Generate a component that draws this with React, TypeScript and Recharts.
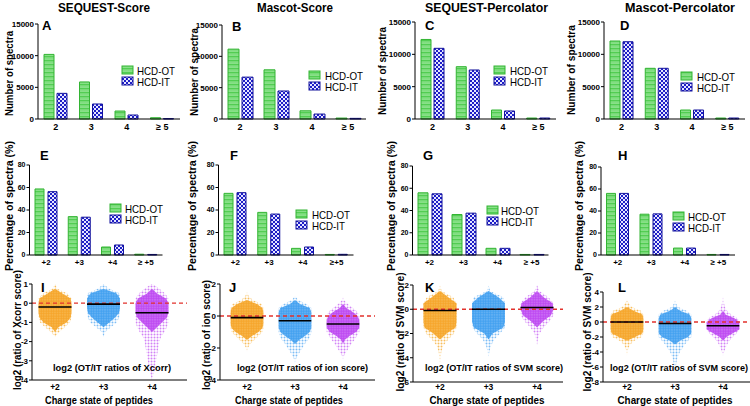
import React from 'react';
import { BarChart, Bar, XAxis, YAxis, ComposedChart, Area, ReferenceLine } from 'recharts';

const FONT = '"Liberation Sans", Arial, Helvetica, sans-serif';

// top row: number of spectra per charge state
const countCats = ['2', '3', '4', '≥ 5'];
const countTicks = [0, 5000, 10000, 15000];
const seqScoreOT = [10200, 5850, 1260, 200];
const seqScoreIT = [4050, 2370, 630, 60];
const mascotScoreOT = [11150, 7850, 1310, 150];
const mascotScoreIT = [6680, 4470, 790, 100];
const seqPercOT = [12300, 8090, 1390, 150];
const seqPercIT = [10930, 7580, 1240, 150];
const mascotPercOT = [12060, 7840, 1390, 150];
const mascotPercIT = [11950, 7840, 1390, 150];

// middle row: percentage of spectra
const pctCats = ['+2', '+3', '+4', '≥ +5'];
const pctCatsF = ['+2', '+3', '+4', '≥+5'];
const pctTicks = [0, 20, 40, 60, 80];
const seqScorePctOT = [58.7, 34.1, 7.1, 0.7];
const seqScorePctIT = [56.3, 33.6, 8.9, 0.5];
const mascotScorePctOT = [54.8, 37.9, 5.9, 0.5];
const mascotScorePctIT = [55.4, 36.4, 7.1, 0.6];
const seqPercPctOT = [55.9, 36.4, 6.0, 0.5];
const seqPercPctIT = [55.0, 37.6, 6.0, 0.5];
const mascotPercPctOT = [56.0, 37.1, 6.3, 0.5];
const mascotPercPctIT = [56.0, 37.4, 6.3, 0.5];

// bottom row: swarm profiles (relative spread of the dots at each log2 level)
const swarmCats = ['+2', '+3', '+4'];

const xcorrLevels = [1, 0.75, 0.5, 0.25, 0, -0.25, -0.5, -0.75, -1, -1.25, -1.5, -1.75, -2, -2.25, -2.5, -2.75, -3, -3.25, -3.5, -3.75, -4];
const xcorrOuter2 = [0, 0.15, 0.75, 1, 1, 1, 1, 1, 0.9, 0.6, 0.25, 0, 0, 0, 0, 0, 0, 0, 0, 0, 0];
const xcorrCore2 = [0, 0, 0.45, 0.95, 1, 1, 1, 0.95, 0.7, 0.2, 0, 0, 0, 0, 0, 0, 0, 0, 0, 0, 0];
const xcorrOuter3 = [0, 0.35, 1, 1, 1, 1, 1, 0.95, 0.8, 0.45, 0.1, 0, 0, 0, 0, 0, 0, 0, 0, 0, 0];
const xcorrCore3 = [0, 0, 0.8, 1, 1, 1, 0.95, 0.7, 0.35, 0, 0, 0, 0, 0, 0, 0, 0, 0, 0, 0, 0];
const xcorrOuter4 = [0.05, 0.45, 0.8, 1, 1, 1, 1, 1, 1, 0.9, 0.75, 0.55, 0.45, 0.4, 0.35, 0.3, 0.25, 0.2, 0.15, 0.08, 0];
const xcorrCore4 = [0, 0, 0.3, 0.85, 1, 1, 1, 0.9, 0.6, 0.3, 0, 0, 0, 0, 0, 0, 0, 0, 0, 0, 0];
const xcorrMedians = [-0.2, -0.05, -0.5];

const ionLevels = [2, 1.75, 1.5, 1.25, 1, 0.75, 0.5, 0.25, 0, -0.25, -0.5, -0.75, -1, -1.25, -1.5, -1.75, -2, -2.25, -2.5, -2.75, -3, -3.25, -3.5, -3.75, -4];
const ionOuter2 = [0, 0, 0, 0.1, 0.35, 0.9, 1, 1, 1, 1, 1, 1, 0.95, 0.7, 0.45, 0.2, 0.05, 0, 0, 0, 0, 0, 0, 0, 0];
const ionCore2 = [0, 0, 0, 0, 0, 0.6, 0.95, 1, 1, 1, 1, 0.95, 0.7, 0.3, 0, 0, 0, 0, 0, 0, 0, 0, 0, 0, 0];
const ionOuter3 = [0, 0, 0, 0, 0.2, 0.7, 1, 1, 1, 1, 1, 1, 1, 0.95, 0.8, 0.6, 0.45, 0.3, 0.15, 0.03, 0, 0, 0, 0, 0];
const ionCore3 = [0, 0, 0, 0, 0, 0.3, 0.9, 1, 1, 1, 1, 1, 0.9, 0.6, 0.25, 0, 0, 0, 0, 0, 0, 0, 0, 0, 0];
const ionOuter4 = [0, 0, 0, 0, 0.05, 0.3, 0.6, 0.9, 1, 1, 1, 1, 1, 0.85, 0.7, 0.5, 0.35, 0.2, 0.05, 0, 0, 0, 0, 0, 0];
const ionCore4 = [0, 0, 0, 0, 0, 0, 0.2, 0.6, 0.9, 1, 1, 1, 0.8, 0.4, 0.1, 0, 0, 0, 0, 0, 0, 0, 0, 0, 0];
const ionMedians = [-0.1, -0.3, -0.5];

const svmKLevels = [2, 1.5, 1, 0.5, 0, -0.5, -1, -1.5, -2, -2.5, -3, -3.5, -4, -4.5, -5, -5.5, -6];
const svmKOuter2 = [0, 0.1, 0.8, 1, 1, 1, 1, 1, 0.85, 0.5, 0.2, 0.08, 0.04, 0, 0, 0, 0];
const svmKCore2 = [0, 0, 0.5, 1, 1, 1, 1, 0.95, 0.4, 0, 0, 0, 0, 0, 0, 0, 0];
const svmKOuter3 = [0, 0.1, 0.9, 1, 1, 1, 1, 1, 0.7, 0.35, 0.15, 0.05, 0, 0, 0, 0, 0];
const svmKCore3 = [0, 0, 0.6, 1, 1, 1, 1, 0.9, 0.25, 0, 0, 0, 0, 0, 0, 0, 0];
const svmKOuter4 = [0, 0.15, 0.7, 1, 1, 1, 0.75, 0.4, 0.15, 0.05, 0, 0, 0, 0, 0, 0, 0];
const svmKCore4 = [0, 0, 0.4, 0.95, 1, 0.85, 0.35, 0, 0, 0, 0, 0, 0, 0, 0, 0, 0];
const svmKMedians = [-0.1, 0, 0.15];

const svmLLevels = [4, 3.5, 3, 2.5, 2, 1.5, 1, 0.5, 0, -0.5, -1, -1.5, -2, -2.5, -3, -3.5, -4, -4.5, -5, -5.5, -6, -6.5, -7, -7.5, -8];
const svmLOuter2 = [0, 0, 0, 0.1, 0.3, 0.85, 1, 1, 1, 1, 1, 1, 0.9, 0.45, 0.2, 0.08, 0.03, 0, 0, 0, 0, 0, 0, 0, 0];
const svmLCore2 = [0, 0, 0, 0, 0, 0.4, 0.95, 1, 1, 1, 1, 0.95, 0.5, 0, 0, 0, 0, 0, 0, 0, 0, 0, 0, 0, 0];
const svmLOuter3 = [0, 0, 0, 0.05, 0.2, 0.7, 1, 1, 1, 1, 1, 1, 1, 0.8, 0.6, 0.45, 0.3, 0.2, 0.12, 0.08, 0.05, 0.02, 0, 0, 0];
const svmLCore3 = [0, 0, 0, 0, 0, 0.3, 0.9, 1, 1, 1, 1, 1, 0.8, 0.3, 0, 0, 0, 0, 0, 0, 0, 0, 0, 0, 0];
const svmLOuter4 = [0, 0, 0.03, 0.06, 0.12, 0.25, 0.5, 0.9, 1, 1, 1, 0.85, 0.6, 0.4, 0.25, 0.15, 0.06, 0, 0, 0, 0, 0, 0, 0, 0];
const svmLCore4 = [0, 0, 0, 0, 0, 0, 0.15, 0.7, 1, 1, 1, 0.6, 0.2, 0, 0, 0, 0, 0, 0, 0, 0, 0, 0, 0, 0];
const svmLMedians = [0, -0.2, -0.5];

const HALF = 0.34; // max half width of a swarm, in category units
const swarmColors = ['#f6a428', '#3f9ff0', '#bd46f2'];
const swarmLight = ['#f8bf5e', '#7dbdf5', '#d283f6'];

const tickStyle = (size: number) => ({ fontSize: size, fontWeight: 700, fill: '#000', fontFamily: FONT });

function BarPanel({ cats, ot, it, box, plot, yMax, yTicks, gap, barGap, yFont, xFont, xOff }: any) {
  const [left, top, width, height] = box;
  const data = cats.map((c: string, i: number) => ({ cat: c, ot: ot[i], it: it[i] }));
  return (
    <div style={{ position: 'absolute', left, top }}>
      <BarChart
        width={width}
        height={height}
        data={data}
        margin={{ top: plot.y0 - top, right: left + width - plot.x1, bottom: 0, left: 0 }}
        barCategoryGap={gap}
        barGap={barGap}
      >
        <XAxis
          dataKey="cat"
          height={top + height - plot.y1}
          interval={0}
          tickLine={false}
          tickSize={xOff}
          tickMargin={2}
          axisLine={{ stroke: '#000' }}
          tick={tickStyle(xFont)}
        />
        <YAxis
          width={plot.x0 - left}
          domain={[0, yMax]}
          ticks={yTicks}
          tickSize={3}
          tickMargin={1}
          axisLine={{ stroke: '#000' }}
          tickLine={{ stroke: '#000' }}
          tick={tickStyle(yFont)}
        />
        <Bar dataKey="ot" fill="url(#pOT)" stroke="#33b433" strokeWidth={1} isAnimationActive={false} />
        <Bar dataKey="it" fill="url(#pIT)" stroke="#12129c" strokeWidth={1} isAnimationActive={false} />
      </BarChart>
    </div>
  );
}

function SwarmPanel({ levels, outer, core, medians, box, plot, c1, sp, yDomain, yTicks, xOff }: any) {
  const [left, top, width, height] = box;
  const data = levels.map((y: number, i: number) => {
    const row: any = { y };
    outer.forEach((w: number[], g: number) => {
      row['o' + g] = [g + 1 - w[i] * HALF, g + 1 + w[i] * HALF];
    });
    core.forEach((w: number[], g: number) => {
      row['c' + g] = [g + 1 - w[i] * HALF, g + 1 + w[i] * HALF];
    });
    return row;
  });
  const xLo = 1 - (c1 - plot.x0) / sp;
  const xHi = 1 + (plot.x1 - c1) / sp;
  return (
    <div style={{ position: 'absolute', left, top }}>
      <ComposedChart
        layout="vertical"
        width={width}
        height={height}
        data={data}
        margin={{ top: plot.y0 - top, right: left + width - plot.x1, bottom: 0, left: 0 }}
      >
        <XAxis
          type="number"
          domain={[xLo, xHi]}
          ticks={[1, 2, 3]}
          allowDataOverflow
          tickFormatter={(v: number) => swarmCats[v - 1]}
          height={top + height - plot.y1}
          tickLine={false}
          tickSize={xOff}
          tickMargin={1}
          axisLine={{ stroke: '#000' }}
          tick={tickStyle(8.5)}
        />
        <YAxis
          type="number"
          dataKey="y"
          domain={yDomain}
          ticks={yTicks}
          allowDataOverflow
          reversed
          width={plot.x0 - left}
          tickSize={3}
          tickMargin={1}
          axisLine={{ stroke: '#000' }}
          tickLine={{ stroke: '#000' }}
          tick={tickStyle(8)}
        />
        {outer.map((_: any, g: number) => (
          <Area key={'o' + g} dataKey={'o' + g} type="linear" fill={`url(#sp${g})`} fillOpacity={1}
            stroke="none" dot={false} activeDot={false} isAnimationActive={false} />
        ))}
        {core.map((_: any, g: number) => (
          <Area key={'c' + g} dataKey={'c' + g} type="linear" fill={`url(#sc${g})`} fillOpacity={1}
            stroke="none" dot={false} activeDot={false} isAnimationActive={false} />
        ))}
        <ReferenceLine y={0} stroke="#e2322c" strokeWidth={1.3} strokeDasharray="4 3" />
        {medians.map((m: number, g: number) => (
          <ReferenceLine key={'m' + g} segment={[{ x: g + 1 - HALF, y: m }, { x: g + 1 + HALF, y: m }]}
            stroke="#000" strokeWidth={1.6} />
        ))}
      </ComposedChart>
    </div>
  );
}

function Txt({ x, y, len, size, bold = true, anchor = 'middle', rot = false, children }: any) {
  return (
    <text
      x={rot ? 0 : x}
      y={rot ? 0 : y}
      transform={rot ? `translate(${x},${y}) rotate(-90)` : undefined}
      textAnchor={anchor}
      fontSize={size}
      fontWeight={bold ? 700 : 400}
      fontFamily={FONT}
      textLength={len}
      lengthAdjust="spacingAndGlyphs"
      fill="#000"
    >
      {children}
    </text>
  );
}

function LegendBox({ x, y, textX }: any) {
  return (
    <g>
      <rect x={x} y={y} width={11} height={8} fill="url(#pOT)" stroke="#33b433" />
      <rect x={x} y={y + 11} width={11} height={8} fill="url(#pIT)" stroke="#12129c" />
      <Txt x={textX} y={y + 8.5} len={38} size={10.5} bold={false} anchor="start">HCD-OT</Txt>
      <Txt x={textX} y={y + 19.5} len={33} size={10.5} bold={false} anchor="start">HCD-IT</Txt>
    </g>
  );
}

const letters = [
  ['A', 42, 30], ['B', 232, 31], ['C', 425, 30], ['D', 620, 30],
  ['E', 40, 160], ['F', 230, 160], ['G', 423, 160], ['H', 618, 160],
  ['I', 41, 292], ['J', 229, 292], ['K', 425, 292], ['L', 618, 292],
];

export default function App() {
  return (
    <div style={{ position: 'absolute', left: 0, top: 0, width: 750, height: 406, background: '#fff', overflow: 'hidden' }}>
      <BarPanel cats={countCats} ot={seqScoreOT} it={seqScoreIT} box={[0, 0, 187, 140]}
        plot={{ x0: 38, x1: 180, y0: 24, y1: 119 }} yMax={15000} yTicks={countTicks}
        gap={6} barGap={3} yFont={8} xFont={9} xOff={3} />
      <BarPanel cats={countCats} ot={mascotScoreOT} it={mascotScoreIT} box={[187, 0, 187, 140]}
        plot={{ x0: 222, x1: 366, y0: 25, y1: 119 }} yMax={15000} yTicks={countTicks}
        gap={6} barGap={3} yFont={8} xFont={9} xOff={3} />
      <BarPanel cats={countCats} ot={seqPercOT} it={seqPercIT} box={[374, 0, 187, 140]}
        plot={{ x0: 415, x1: 556, y0: 22, y1: 119 }} yMax={15000} yTicks={countTicks}
        gap={6} barGap={3} yFont={8} xFont={9} xOff={3} />
      <BarPanel cats={countCats} ot={mascotPercOT} it={mascotPercIT} box={[561, 0, 189, 140]}
        plot={{ x0: 604, x1: 745, y0: 22, y1: 119 }} yMax={15000} yTicks={countTicks}
        gap={6} barGap={3} yFont={8} xFont={9} xOff={3} />

      <BarPanel cats={pctCats} ot={seqScorePctOT} it={seqScorePctIT} box={[0, 135, 187, 135]}
        plot={{ x0: 29.5, x1: 162.5, y0: 165, y1: 255 }} yMax={80} yTicks={pctTicks}
        gap={5.5} barGap={4} yFont={7} xFont={8} xOff={2} />
      <BarPanel cats={pctCatsF} ot={mascotScorePctOT} it={mascotScorePctIT} box={[187, 135, 187, 135]}
        plot={{ x0: 218.5, x1: 353.5, y0: 165, y1: 255 }} yMax={80} yTicks={pctTicks}
        gap={5.5} barGap={4} yFont={7} xFont={8} xOff={2} />
      <BarPanel cats={pctCats} ot={seqPercPctOT} it={seqPercPctIT} box={[374, 135, 187, 135]}
        plot={{ x0: 412.5, x1: 548.5, y0: 166, y1: 255 }} yMax={80} yTicks={pctTicks}
        gap={5.5} barGap={4} yFont={7} xFont={8} xOff={2} />
      <BarPanel cats={pctCats} ot={mascotPercPctOT} it={mascotPercPctIT} box={[561, 135, 189, 135]}
        plot={{ x0: 601, x1: 735, y0: 167, y1: 255 }} yMax={80} yTicks={pctTicks}
        gap={5.5} barGap={4} yFont={7} xFont={8} xOff={2} />

      <SwarmPanel levels={xcorrLevels} outer={[xcorrOuter2, xcorrOuter3, xcorrOuter4]}
        core={[xcorrCore2, xcorrCore3, xcorrCore4]} medians={xcorrMedians} box={[0, 270, 190, 136]}
        plot={{ x0: 32, x1: 187, y0: 284, y1: 380 }} c1={55} sp={48.5} yDomain={[-4, 1]}
        yTicks={[-4, -3, -2, -1, 0, 1]} xOff={3} />
      <SwarmPanel levels={ionLevels} outer={[ionOuter2, ionOuter3, ionOuter4]}
        core={[ionCore2, ionCore3, ionCore4]} medians={ionMedians} box={[190, 270, 187, 136]}
        plot={{ x0: 220, x1: 375, y0: 284, y1: 380 }} c1={247} sp={48} yDomain={[-4, 2]}
        yTicks={[-4, -2, 0, 2]} xOff={3} />
      <SwarmPanel levels={svmKLevels} outer={[svmKOuter2, svmKOuter3, svmKOuter4]}
        core={[svmKCore2, svmKCore3, svmKCore4]} medians={svmKMedians} box={[377, 270, 190, 136]}
        plot={{ x0: 413, x1: 563, y0: 285, y1: 382 }} c1={440} sp={48.5} yDomain={[-6, 2]}
        yTicks={[-6, -4, -2, 0, 2]} xOff={1} />
      <SwarmPanel levels={svmLLevels} outer={[svmLOuter2, svmLOuter3, svmLOuter4]}
        core={[svmLCore2, svmLCore3, svmLCore4]} medians={svmLMedians} box={[567, 270, 183, 136]}
        plot={{ x0: 603, x1: 750, y0: 292, y1: 382 }} c1={627} sp={48} yDomain={[-8, 4]}
        yTicks={[-8, -6, -4, -2, 0, 2, 4]} xOff={1} />

      <svg width={750} height={406} style={{ position: 'absolute', left: 0, top: 0, pointerEvents: 'none' }}>
        <defs>
          <pattern id="pOT" width="4" height="4" patternUnits="userSpaceOnUse">
            <rect width="4" height="4" fill="#8fe38f" />
            <rect width="4" height="1.4" fill="#52cd52" />
            <circle cx="1" cy="2.8" r="0.6" fill="#66d666" />
            <circle cx="3" cy="2.8" r="0.6" fill="#66d666" />
          </pattern>
          <pattern id="pIT" width="4" height="4" patternUnits="userSpaceOnUse">
            <rect width="4" height="4" fill="#e6e6ff" />
            <rect width="2" height="2" fill="#1d1dc6" />
            <rect x="2" y="2" width="2" height="2" fill="#1d1dc6" />
          </pattern>
          {swarmColors.map((c, g) => (
            <pattern key={'sp' + g} id={'sp' + g} width="3" height="3" patternUnits="userSpaceOnUse">
              <circle cx="1.5" cy="1.5" r="1" fill={swarmLight[g]} />
            </pattern>
          ))}
          {swarmColors.map((c, g) => (
            <pattern key={'sc' + g} id={'sc' + g} width="2.5" height="2.5" patternUnits="userSpaceOnUse">
              <rect width="2.5" height="2.5" fill={swarmLight[g]} />
              <circle cx="1.25" cy="1.25" r="1.15" fill={c} />
            </pattern>
          ))}
        </defs>

        <Txt x={104} y={12} len={92} size={12}>SEQUEST-Score</Txt>
        <Txt x={295} y={12} len={76} size={12}>Mascot-Score</Txt>
        <Txt x={486.5} y={12} len={123} size={12}>SEQUEST-Percolator</Txt>
        <Txt x={680} y={12} len={110} size={12}>Mascot-Percolator</Txt>

        {letters.map(([t, x, y]) => (
          <text key={t as string} x={x as number} y={y as number} fontSize={13} fontWeight={700} fontFamily={FONT}>{t}</text>
        ))}

        <Txt rot x={13} y={73.5} len={85} size={11.5}>Number of spectra</Txt>
        <Txt rot x={198} y={72} len={88} size={11.5}>Number of spectra</Txt>
        <Txt rot x={386} y={71} len={88} size={11.5}>Number of spectra</Txt>
        <Txt rot x={575} y={70} len={90} size={11.5}>Number of spectra</Txt>

        <Txt rot x={13} y={206} len={130} size={11.5}>Percentage of spectra (%)</Txt>
        <Txt rot x={196} y={206} len={130} size={11.5}>Percentage of spectra (%)</Txt>
        <Txt rot x={395} y={206} len={130} size={11.5}>Percentage of spectra (%)</Txt>
        <Txt rot x={583} y={206} len={130} size={11.5}>Percentage of spectra (%)</Txt>

        <Txt rot x={21} y={330} len={120} size={11.5}>log2 (ratio of Xcorr score)</Txt>
        <Txt rot x={210} y={335} len={110} size={11.5}>log2 (ratio of ion score)</Txt>
        <Txt rot x={404} y={332} len={119} size={11.5}>log2 (ratio of SVM score)</Txt>
        <Txt rot x={591} y={332} len={119} size={11.5}>log2 (ratio of SVM score)</Txt>

        <Txt x={112} y={371} len={118} size={9.2}>log2 (OT/IT ratios of Xcorr)</Txt>
        <Txt x={302.5} y={371} len={131} size={9.2}>log2 (OT/IT ratios of ion score)</Txt>
        <Txt x={494} y={371} len={138} size={9.2}>log2 (OT/IT ratios of SVM score)</Txt>
        <Txt x={679} y={371} len={138} size={9.2}>log2 (OT/IT ratios of SVM score)</Txt>

        <Txt x={99} y={404} len={108} size={11}>Charge state of peptides</Txt>
        <Txt x={289} y={404} len={108} size={11}>Charge state of peptides</Txt>
        <Txt x={487} y={404} len={115} size={11}>Charge state of peptides</Txt>
        <Txt x={675} y={404} len={115} size={11}>Charge state of peptides</Txt>

        <LegendBox x={122} y={66} textX={137} />
        <LegendBox x={309} y={71} textX={325} />
        <LegendBox x={494} y={66} textX={510} />
        <LegendBox x={681} y={72} textX={697} />
        <LegendBox x={110} y={204} textX={125} />
        <LegendBox x={296} y={210} textX={312} />
        <LegendBox x={487} y={206} textX={501} />
        <LegendBox x={673} y={212} textX={688} />
      </svg>
    </div>
  );
}
